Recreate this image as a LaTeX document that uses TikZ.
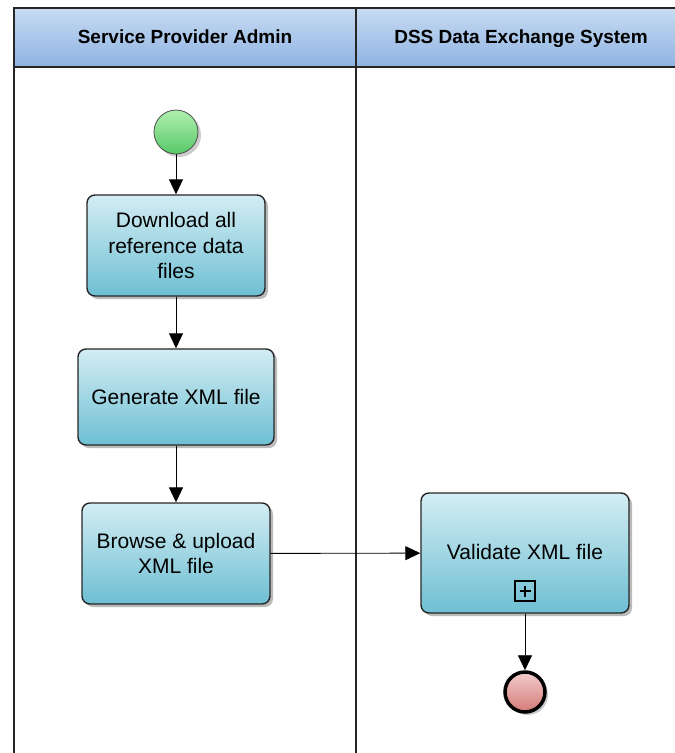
\documentclass[tikz,border=0pt]{standalone}
\usepackage{fontspec}
\setmainfont{Liberation Sans}
\usetikzlibrary{arrows.meta,shadows,positioning}
\definecolor{hdtop}{HTML}{C8DBF2}
\definecolor{hdbot}{HTML}{8EB3E2}
\definecolor{tasktop}{HTML}{D3EDF3}
\definecolor{taskbot}{HTML}{6EBFD3}
\definecolor{starttop}{HTML}{B0F0B0}
\definecolor{startbot}{HTML}{58C868}
\definecolor{endtop}{HTML}{F2CCCC}
\definecolor{endbot}{HTML}{D47A78}
\tikzset{
  x=1pt,y=-1pt,
  lane/.style={line width=1.3pt,draw=black!85},
  header/.style={font=\bfseries\fontsize{19}{21}\selectfont,anchor=base},
  task/.style={draw=black!85,line width=1.4pt,rounded corners=8pt,top color=tasktop,bottom color=taskbot,
    align=center,font=\fontsize{21}{25.5}\selectfont,inner sep=0pt,
    drop shadow={shadow xshift=3pt,shadow yshift=-3pt,fill=black!45,opacity=0.6}},
  startev/.style={circle,draw=black!70,line width=0.8pt,top color=starttop,bottom color=startbot,minimum size=44pt,inner sep=0pt,
    drop shadow={shadow xshift=3pt,shadow yshift=-3pt,fill=black!40,opacity=0.5}},
  endev/.style={circle,draw=black,line width=3.5pt,top color=endtop,bottom color=endbot,minimum size=40pt,inner sep=0pt,
    drop shadow={shadow xshift=3pt,shadow yshift=-3pt,fill=black!40,opacity=0.5}},
  flow/.style={draw=black,line width=0.9pt,-{Triangle[length=15pt,width=14pt]}},
  marker/.style={draw=black,line width=1.2pt,minimum size=20pt,inner sep=0pt}
}
\begin{document}
\begin{tikzpicture}
\useasboundingbox (0,0) rectangle (675,753);
% header band
\shade[top color=hdtop,bottom color=hdbot] (14,8) rectangle (675,67);
\draw[lane] (14,753) -- (14,8) -- (675,8);
\draw[lane] (14,67) -- (675,67);
\draw[lane] (356,8) -- (356,753);
\node[header] (h1) at (185,43.5) {Service Provider Admin};
\node[header] (h2) at (521,43.5) {DSS Data Exchange System};
% events and tasks
\node[startev] (start) at (176,132) {};
\node[task,minimum width=178pt,minimum height=101pt] (t1) at (176,245.5) {Download all\\reference data\\files};
\node[task,minimum width=196pt,minimum height=96pt] (t2) at (176,397) {Generate XML file};
\node[task,minimum width=188pt,minimum height=101pt] (t3) at (176,553.5) {Browse \& upload\\XML file};
\node[task,minimum width=208pt,minimum height=120pt] (t4) at (525,553) {};
\node[font=\fontsize{21}{24}\selectfont] (t4lbl) at (525,552) {Validate XML file};
\node[marker] (plus) at (525,591) {};
\draw[line width=1.2pt] ([yshift=-5.5pt]plus.center) -- ([yshift=5.5pt]plus.center)
  ([xshift=-5.5pt]plus.center) -- ([xshift=5.5pt]plus.center);
\node[endev] (end) at (525,692) {};
% flows
\draw[flow] (start) -- (t1);
\draw[flow] (t1) -- (t2);
\draw[flow] (t2) -- (t3);
\draw[flow] (t3) -- (t4);
\draw[flow] (t4) -- (end);
\end{tikzpicture}
\end{document}
